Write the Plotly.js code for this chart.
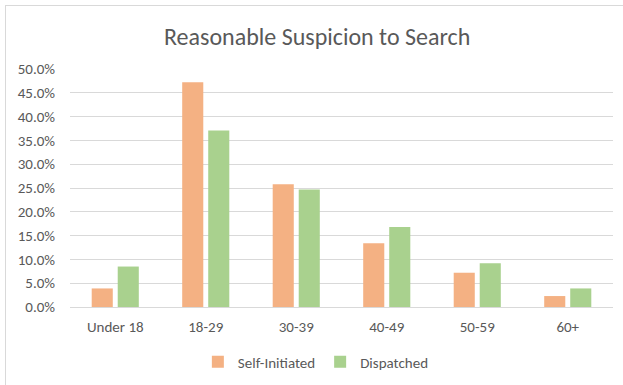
<!DOCTYPE html>
<html>
<head>
<meta charset="utf-8">
<script src="https://cdn.plot.ly/plotly-3.0.1.min.js"></script>
<style>
html,body{margin:0;padding:0;background:#fff;}
#wrap{position:relative;width:623px;height:385px;overflow:hidden;}
#chart{width:623px;height:385px;}
#frame{position:absolute;left:5px;top:5px;width:700px;height:500px;border-left:1px solid #d9d9d9;border-top:1px solid #d9d9d9;pointer-events:none;}
</style>
</head>
<body>
<div id="wrap"><div id="chart"></div><div id="frame"></div></div>
<script>
const categories = ["Under 18", "18-29", "30-39", "40-49", "50-59", "60+"];
const selfInitiated = [0.039, 0.472, 0.258, 0.134, 0.072, 0.023];
const dispatched = [0.085, 0.371, 0.247, 0.168, 0.092, 0.039];
const yTicks = [0, 0.05, 0.10, 0.15, 0.20, 0.25, 0.30, 0.35, 0.40, 0.45, 0.50];

const font = "Carlito, Calibri, Lato, sans-serif";
const traces = [
  {type: "bar", name: "Self-Initiated", x: categories, y: selfInitiated,
   marker: {color: "#F4B183"}, hoverinfo: "none"},
  {type: "bar", name: "Dispatched", x: categories, y: dispatched,
   marker: {color: "#A9D18E"}, hoverinfo: "none"}
];
const layout = {
  width: 623, height: 385,
  margin: {l: 70, r: 10, t: 69, b: 78},
  paper_bgcolor: "#fff", plot_bgcolor: "#fff",
  font: {family: font, color: "#595959", size: 15},
  title: {text: "Reasonable Suspicion to Search", font: {family: font, size: 24, color: "#595959"},
          x: 0.509, xanchor: "center", y: 0.905, yanchor: "middle", xref: "container", yref: "container"},
  barmode: "group", bargap: 0.425, bargroupgap: 0.19,
  xaxis: {type: "category", showgrid: false, showline: true, linecolor: "#d9d9d9", linewidth: 1,
          ticks: "", tickfont: {family: font, size: 15, color: "#595959"}, ticklabelstandoff: 6, fixedrange: true},
  yaxis: {range: [0, 0.5], tickvals: yTicks, tickformat: ".1%", showgrid: true, gridcolor: "#d9d9d9",
          gridwidth: 1, zeroline: false, showline: false, ticks: "",
          tickfont: {family: font, size: 15, color: "#595959"}, ticklabelstandoff: 14, fixedrange: true},
  showlegend: true,
  legend: {orientation: "h", x: 0.507, xanchor: "center", xref: "container", y: 0.06, yanchor: "middle", yref: "container",
           font: {family: font, size: 15, color: "#595959"}, itemwidth: 30, traceorder: "normal"}
};
Plotly.newPlot("chart", traces, layout, {displayModeBar: false, staticPlot: true});
</script>
</body>
</html>
